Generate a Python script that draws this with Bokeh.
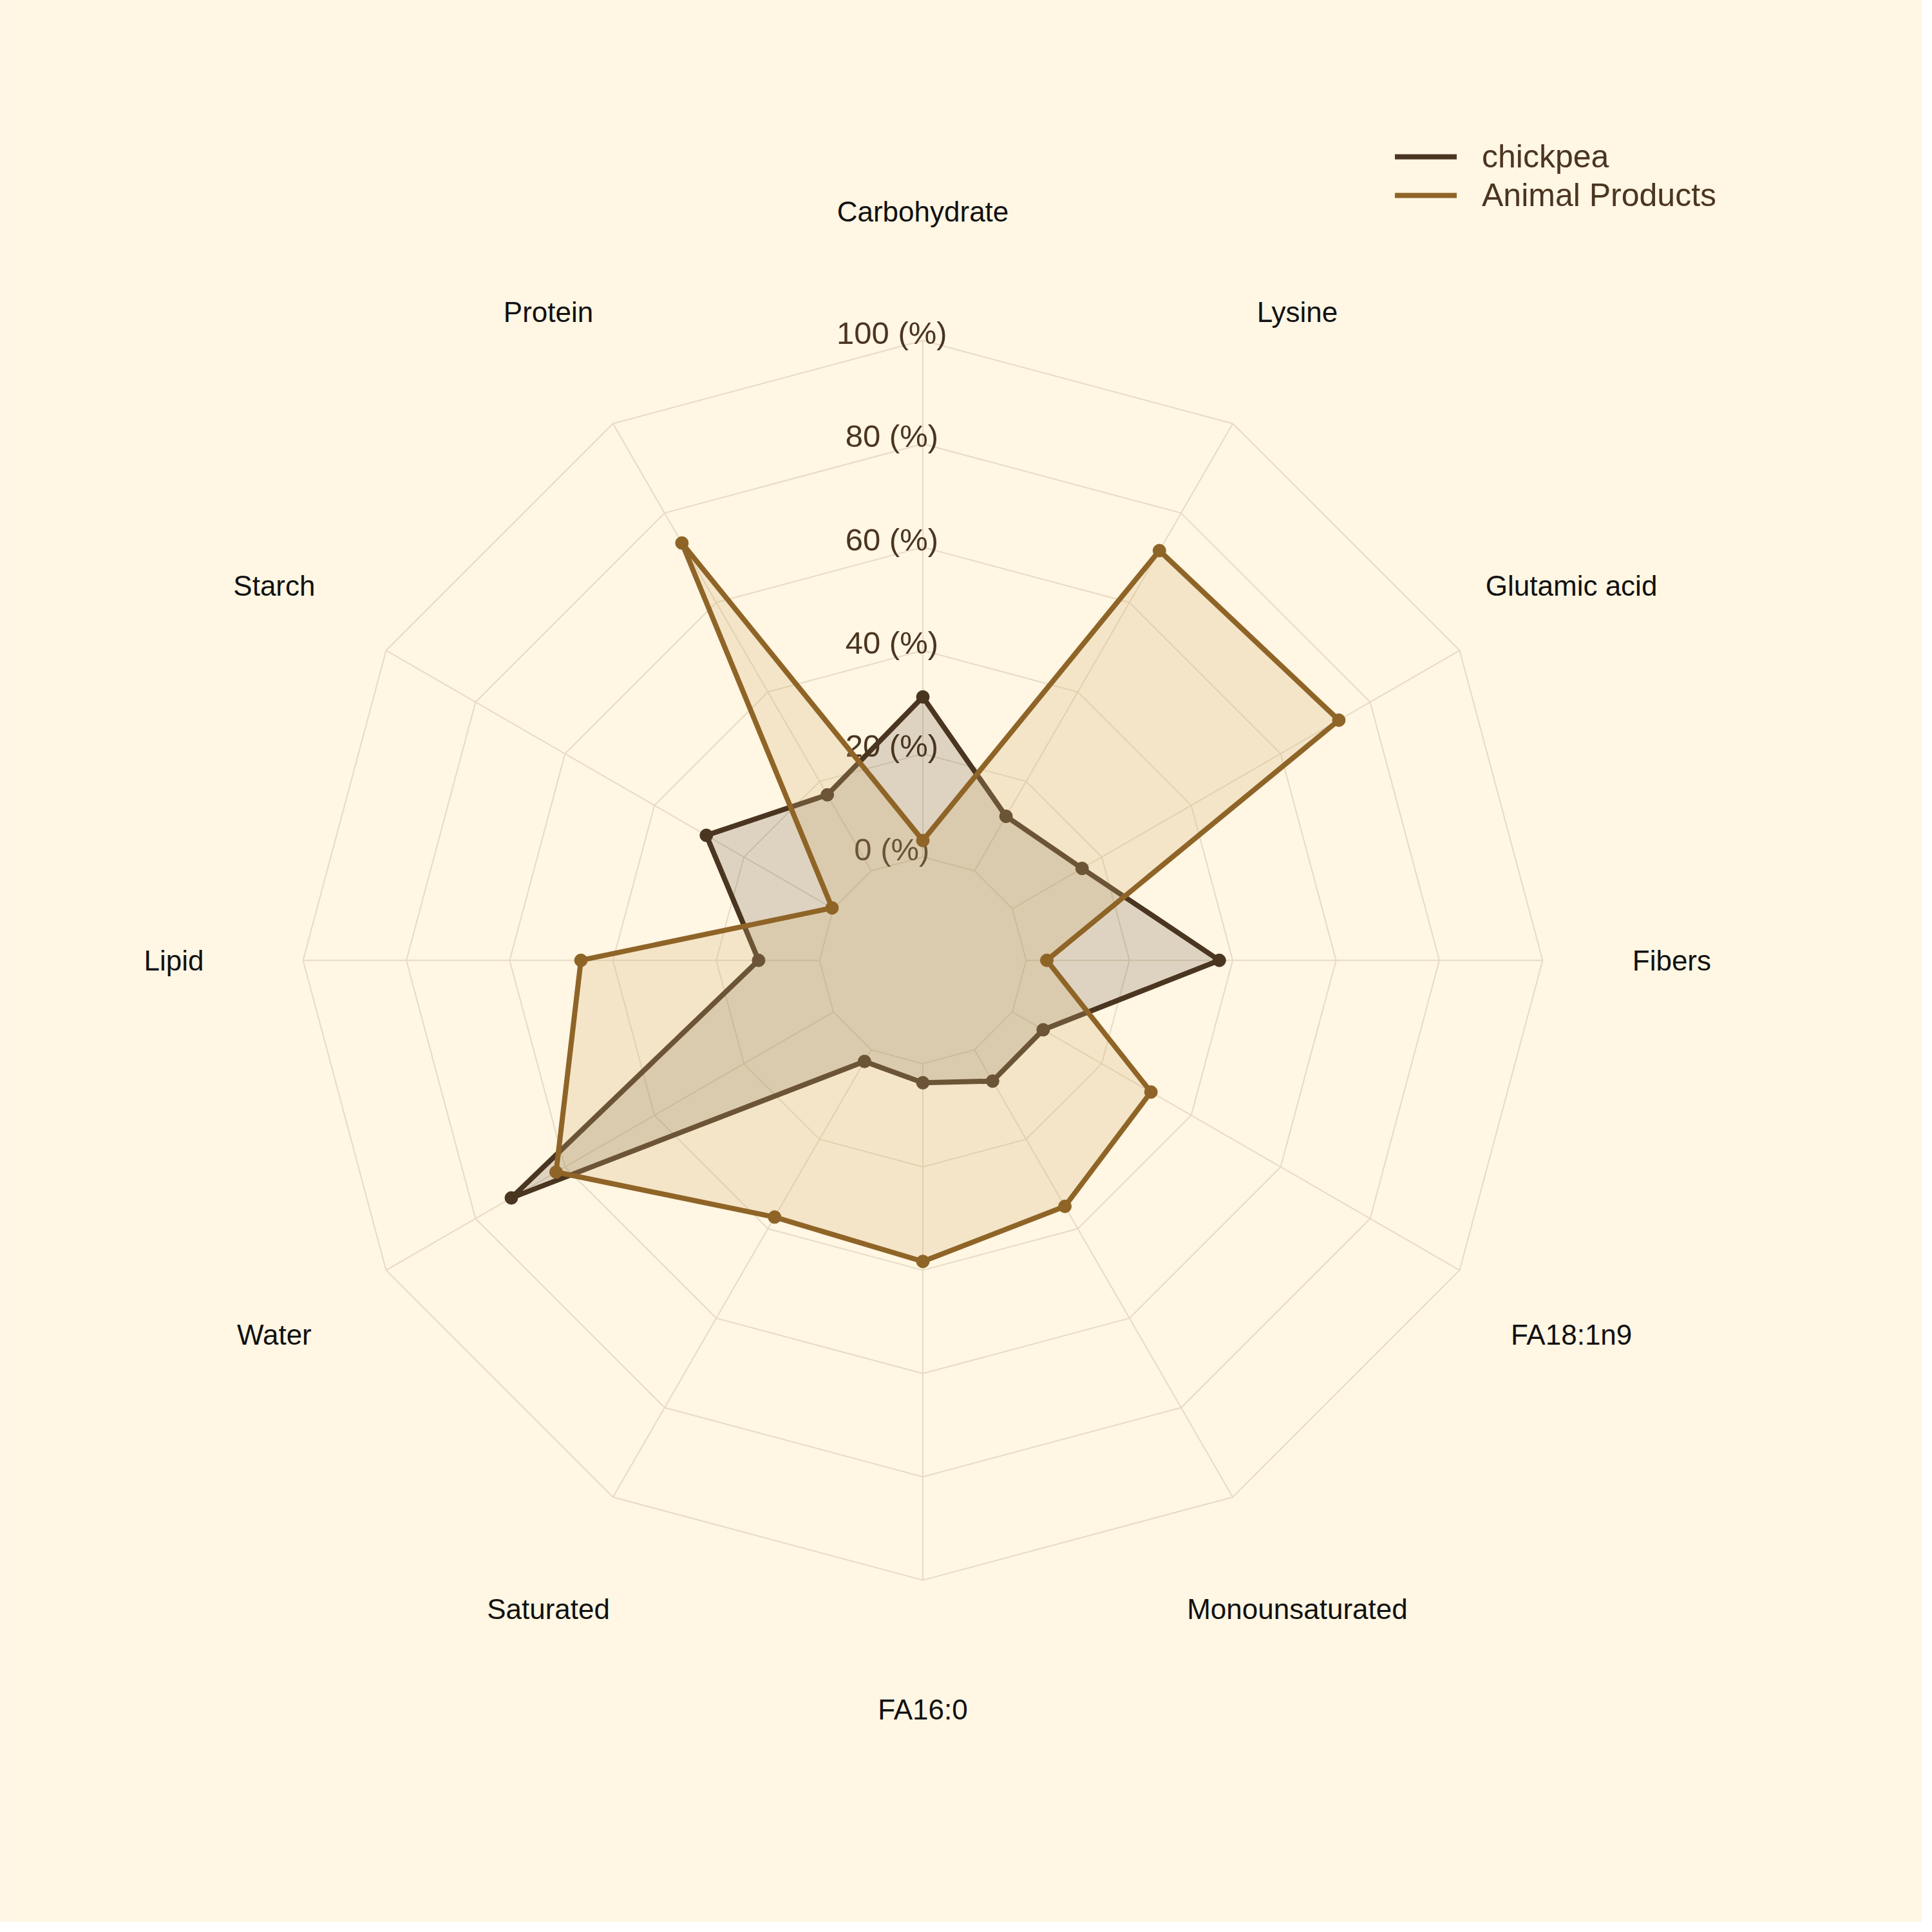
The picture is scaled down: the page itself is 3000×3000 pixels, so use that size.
import numpy as np
from bokeh.plotting import figure
from bokeh.models import Range1d, Legend, LegendItem
from bokeh.core.properties import value
from bokeh.embed import file_html
from bokeh.resources import INLINE

# ---------------- data ----------------
categories = ["Carbohydrate", "Lysine", "Glutamic acid", "Fibers", "FA18:1n9",
              "Monounsaturated", "FA16:0", "Saturated", "Water", "Lipid",
              "Starch", "Protein"]
chickpea = [31.0, 12.2, 15.6, 37.4, 6.9, 7.0, 3.7, 2.6, 72.0, 11.8, 28.4, 17.0]
animal_products = [3.2, 71.6, 73.0, 4.0, 31.0, 35.0, 38.3, 37.4, 62.0, 46.2, 0.3, 73.3]
series_names = ["chickpea", "Animal Products"]
tick_values = [0, 20, 40, 60, 80, 100]
tick_labels = ["0 (%)", "20 (%)", "40 (%)", "60 (%)", "80 (%)", "100 (%)"]

# ---------------- style / layout ----------------
BG = "#fff6e3"
GRID = "#e6dbc4"
DARK = "#4a3520"
BROWN = "#8f6427"
ANIMAL_FILL = "#d4b277"
FONT = "Liberation Sans"

OFFSET = 20.0      # radial hole: value 0 sits at radius 20
LABEL_R = 145.0    # radius of category labels
PX = 8.02          # pixels per data unit
W = H = 2984
CX, CY = 1432.5, 1490.7   # centre in canvas pixels (from top-left)
LW = 8
MS = 20

n = len(categories)
theta = np.deg2rad(90.0 - 360.0 / n * np.arange(n))


def polar(vals):
    r = np.asarray(vals, dtype=float) + OFFSET
    return r * np.cos(theta), r * np.sin(theta)


def closed(a):
    a = list(a)
    return a + a[:1]


p = figure(width=W, height=H,
           x_range=Range1d(-CX / PX, (W - CX) / PX),
           y_range=Range1d(-(H - CY) / PX, CY / PX),
           x_axis_type=None, y_axis_type=None,
           output_backend="svg", toolbar_location=None, min_border=0)
p.outline_line_color = None
p.background_fill_color = BG
p.border_fill_color = BG

# grid rings
ring_xs, ring_ys = [], []
for tv in tick_values:
    gx, gy = polar([tv] * n)
    ring_xs.append(closed(gx))
    ring_ys.append(closed(gy))
p.multi_line(ring_xs, ring_ys, line_color=GRID, line_width=2)

# spokes
sx0, sy0 = polar([tick_values[0]] * n)
sx1, sy1 = polar([tick_values[-1]] * n)
p.segment(x0=sx0, y0=sy0, x1=sx1, y1=sy1, line_color=GRID, line_width=2)

# radial tick labels
p.text(x=[-6.0] * len(tick_values),
       y=[tv + OFFSET + 1.5 for tv in tick_values],
       text=tick_labels, text_font=value(FONT), text_font_size="49px",
       text_color=DARK, text_align="center", text_baseline="middle")

# category labels
lx = (LABEL_R) * np.cos(theta)
ly = (LABEL_R) * np.sin(theta)
p.text(x=lx, y=ly, text=categories, text_font=value(FONT),
       text_font_size="44px", text_color="#111111",
       text_align="center", text_baseline="middle")

# chickpea
cx, cy = polar(chickpea)
p.patch(cx, cy, fill_color=DARK, fill_alpha=0.18, line_color=None)
line_c = p.line(closed(cx), closed(cy), line_color=DARK, line_width=LW,
                line_join="round", line_cap="round")
p.scatter(cx, cy, size=MS, fill_color=DARK, line_color=DARK)

# animal products
ax, ay = polar(animal_products)
p.patch(ax, ay, fill_color=ANIMAL_FILL, fill_alpha=0.25, line_color=None)
line_a = p.line(closed(ax), closed(ay), line_color=BROWN, line_width=LW,
                line_join="round", line_cap="round")
p.scatter(ax, ay, size=MS, fill_color=BROWN, line_color=BROWN)

legend = Legend(items=[LegendItem(label=series_names[0], renderers=[line_c]),
                       LegendItem(label=series_names[1], renderers=[line_a])],
                location=(2166, 2651),
                label_text_font=FONT, label_text_font_size="50px",
                label_text_color=DARK, glyph_width=96, glyph_height=60,
                label_height=60, label_standoff=39, spacing=0, padding=0,
                margin=0, border_line_color=None, background_fill_alpha=0)
p.add_layout(legend)

open("out.html", "w").write(file_html(p, INLINE))
